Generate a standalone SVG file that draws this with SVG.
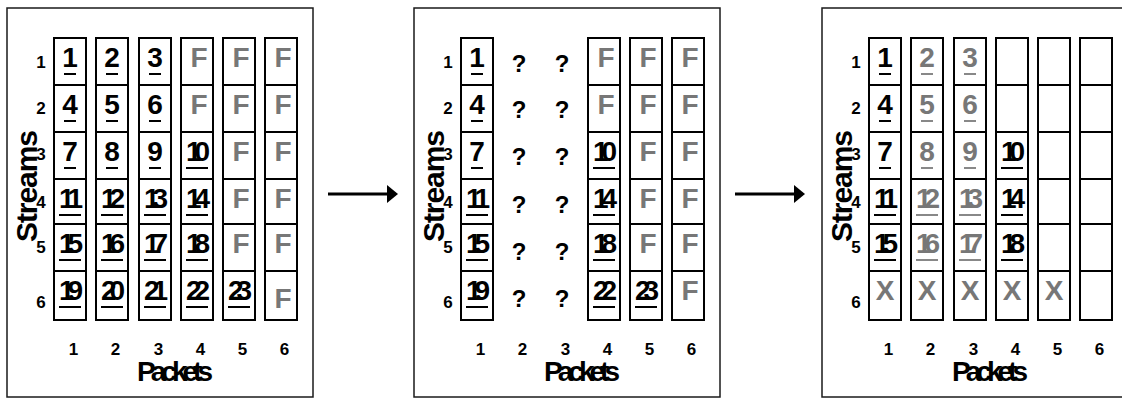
<svg xmlns="http://www.w3.org/2000/svg" width="1122" height="398" viewBox="0 0 1122 398">
<style>
.bg{fill:#fff}
.frame{fill:none;stroke:#1a1a1a;stroke-width:1.5}
.col{fill:#fff;stroke:#000;stroke-width:2}
.div{fill:none;stroke:#000;stroke-width:2}
text{font-family:"Liberation Sans",Arial,sans-serif;font-weight:bold;fill:#000}
.n{font-size:28px;text-anchor:middle}
.g{fill:#777}
.u{fill:none;stroke:#000;stroke-width:2}
.ug{fill:none;stroke:#888;stroke-width:2}
.lbl{font-size:17px;text-anchor:middle}
.axis{font-size:28px;text-anchor:middle}
.st{font-size:30px;text-anchor:middle}
.q{font-size:24px;text-anchor:middle}
.conn{stroke:#000;stroke-width:3;fill:none}
</style>
<defs>
<marker id="ah" markerUnits="userSpaceOnUse" markerWidth="12" markerHeight="20" refX="2" refY="9" orient="auto">
<path d="M0,0 L11,9 L0,18 z" fill="#000"/>
</marker>
<g id="axes">
<rect class="frame" x="7" y="8" width="306" height="389"/>
<text class="st" transform="translate(37,186) rotate(-90)" textLength="112" lengthAdjust="spacing">Streams</text>
<text class="lbl" x="41" y="68">1</text>
<text class="lbl" x="41" y="114">2</text>
<text class="lbl" x="41" y="160">3</text>
<text class="lbl" x="41" y="208">4</text>
<text class="lbl" x="41" y="253">5</text>
<text class="lbl" x="41" y="308">6</text>
<text class="lbl" x="73.5" y="355">1</text>
<text class="lbl" x="115.5" y="355">2</text>
<text class="lbl" x="158.5" y="355">3</text>
<text class="lbl" x="200.5" y="355">4</text>
<text class="lbl" x="242.5" y="355">5</text>
<text class="lbl" x="284.5" y="355">6</text>
<text class="axis" x="175" y="381" textLength="76" lengthAdjust="spacing">Packets</text>
</g>
</defs>
<rect class="bg" x="0" y="0" width="1122" height="398"/>

<g id="panel1">
<use href="#axes"/>
<g id="p1-col1">
<rect class="col" x="54" y="38" width="32" height="282"/>
<path class="div" d="M54 85H86M54 132H86M54 179H86M54 224H86M54 271H86"/>
<text class="n" x="70" y="67">1</text><text class="n" x="70" y="114">4</text><text class="n" x="70" y="161">7</text>
<text class="n" x="71" y="208" textLength="24" lengthAdjust="spacing">11</text><text class="n" x="71" y="253" textLength="24" lengthAdjust="spacing">15</text><text class="n" x="71" y="300" textLength="24" lengthAdjust="spacing">19</text>
<path class="u" d="M64 74H76M64 121H76M64 168H76M59 215H81M59 260H81M59 307H81"/>
</g>
<g id="p1-col2">
<rect class="col" x="96" y="38" width="32" height="282"/>
<path class="div" d="M96 85H128M96 132H128M96 179H128M96 224H128M96 271H128"/>
<text class="n" x="112" y="67">2</text><text class="n" x="112" y="114">5</text><text class="n" x="112" y="161">8</text>
<text class="n" x="113" y="208" textLength="24" lengthAdjust="spacing">12</text><text class="n" x="113" y="253" textLength="24" lengthAdjust="spacing">16</text><text class="n" x="113" y="300" textLength="24" lengthAdjust="spacing">20</text>
<path class="u" d="M106 74H118M106 121H118M106 168H118M101 215H123M101 260H123M101 307H123"/>
</g>
<g id="p1-col3">
<rect class="col" x="139" y="38" width="32" height="282"/>
<path class="div" d="M139 85H171M139 132H171M139 179H171M139 224H171M139 271H171"/>
<text class="n" x="155" y="67">3</text><text class="n" x="155" y="114">6</text><text class="n" x="155" y="161">9</text>
<text class="n" x="156" y="208" textLength="24" lengthAdjust="spacing">13</text><text class="n" x="156" y="253" textLength="24" lengthAdjust="spacing">17</text><text class="n" x="156" y="300" textLength="24" lengthAdjust="spacing">21</text>
<path class="u" d="M149 74H161M149 121H161M149 168H161M144 215H166M144 260H166M144 307H166"/>
</g>
<g id="p1-col4">
<rect class="col" x="181" y="38" width="32" height="282"/>
<path class="div" d="M181 85H213M181 132H213M181 179H213M181 224H213M181 271H213"/>
<text class="n g" x="199" y="67">F</text><text class="n g" x="199" y="114">F</text>
<text class="n" x="198" y="161" textLength="24" lengthAdjust="spacing">10</text><text class="n" x="198" y="208" textLength="24" lengthAdjust="spacing">14</text><text class="n" x="198" y="253" textLength="24" lengthAdjust="spacing">18</text><text class="n" x="198" y="300" textLength="24" lengthAdjust="spacing">22</text>
<path class="u" d="M186 168H208M186 215H208M186 260H208M186 307H208"/>
</g>
<g id="p1-col5">
<rect class="col" x="223" y="38" width="32" height="282"/>
<path class="div" d="M223 85H255M223 132H255M223 179H255M223 224H255M223 271H255"/>
<text class="n g" x="241" y="67">F</text><text class="n g" x="241" y="114">F</text><text class="n g" x="241" y="161">F</text><text class="n g" x="241" y="208">F</text><text class="n g" x="241" y="253">F</text>
<text class="n" x="240" y="300" textLength="24" lengthAdjust="spacing">23</text>
<path class="u" d="M228 307H250"/>
</g>
<g id="p1-col6">
<rect class="col" x="265" y="38" width="32" height="282"/>
<path class="div" d="M265 85H297M265 132H297M265 179H297M265 224H297M265 271H297"/>
<text class="n g" x="283" y="67">F</text><text class="n g" x="283" y="114">F</text><text class="n g" x="283" y="161">F</text><text class="n g" x="283" y="208">F</text><text class="n g" x="283" y="253">F</text><text class="n g" x="283" y="308">F</text>
</g>
</g>

<g id="panel2" transform="translate(407,0)">
<use href="#axes"/>
<g id="p2-col1">
<rect class="col" x="54" y="38" width="32" height="282"/>
<path class="div" d="M54 85H86M54 132H86M54 179H86M54 224H86M54 271H86"/>
<text class="n" x="70" y="67">1</text><text class="n" x="70" y="114">4</text><text class="n" x="70" y="161">7</text>
<text class="n" x="71" y="208" textLength="24" lengthAdjust="spacing">11</text><text class="n" x="71" y="253" textLength="24" lengthAdjust="spacing">15</text><text class="n" x="71" y="300" textLength="24" lengthAdjust="spacing">19</text>
<path class="u" d="M64 74H76M64 121H76M64 168H76M59 215H81M59 260H81M59 307H81"/>
</g>
<g id="p2-col2">
<text class="q" x="112" y="72">?</text><text class="q" x="112" y="118">?</text><text class="q" x="112" y="165">?</text><text class="q" x="112" y="213">?</text><text class="q" x="112" y="260">?</text><text class="q" x="112" y="307">?</text>
</g>
<g id="p2-col3">
<text class="q" x="155" y="72">?</text><text class="q" x="155" y="118">?</text><text class="q" x="155" y="165">?</text><text class="q" x="155" y="213">?</text><text class="q" x="155" y="260">?</text><text class="q" x="155" y="307">?</text>
</g>
<g id="p2-col4">
<rect class="col" x="181" y="38" width="32" height="282"/>
<path class="div" d="M181 85H213M181 132H213M181 179H213M181 224H213M181 271H213"/>
<text class="n g" x="199" y="67">F</text><text class="n g" x="199" y="114">F</text>
<text class="n" x="198" y="161" textLength="24" lengthAdjust="spacing">10</text><text class="n" x="198" y="208" textLength="24" lengthAdjust="spacing">14</text><text class="n" x="198" y="253" textLength="24" lengthAdjust="spacing">18</text><text class="n" x="198" y="300" textLength="24" lengthAdjust="spacing">22</text>
<path class="u" d="M186 168H208M186 215H208M186 260H208M186 307H208"/>
</g>
<g id="p2-col5">
<rect class="col" x="223" y="38" width="32" height="282"/>
<path class="div" d="M223 85H255M223 132H255M223 179H255M223 224H255M223 271H255"/>
<text class="n g" x="241" y="67">F</text><text class="n g" x="241" y="114">F</text><text class="n g" x="241" y="161">F</text><text class="n g" x="241" y="208">F</text><text class="n g" x="241" y="253">F</text>
<text class="n" x="240" y="300" textLength="24" lengthAdjust="spacing">23</text>
<path class="u" d="M228 307H250"/>
</g>
<g id="p2-col6">
<rect class="col" x="265" y="38" width="32" height="282"/>
<path class="div" d="M265 85H297M265 132H297M265 179H297M265 224H297M265 271H297"/>
<text class="n g" x="283" y="67">F</text><text class="n g" x="283" y="114">F</text><text class="n g" x="283" y="161">F</text><text class="n g" x="283" y="208">F</text><text class="n g" x="283" y="253">F</text><text class="n g" x="283" y="300">F</text>
</g>
</g>

<g id="panel3" transform="translate(815,0)">
<use href="#axes"/>
<g id="p3-col1">
<rect class="col" x="54" y="38" width="32" height="282"/>
<path class="div" d="M54 85H86M54 132H86M54 179H86M54 224H86M54 271H86"/>
<text class="n" x="70" y="67">1</text><text class="n" x="70" y="114">4</text><text class="n" x="70" y="161">7</text>
<text class="n" x="71" y="208" textLength="24" lengthAdjust="spacing">11</text><text class="n" x="71" y="253" textLength="24" lengthAdjust="spacing">15</text>
<text class="n g" x="70" y="300">X</text>
<path class="u" d="M64 74H76M64 121H76M64 168H76M59 215H81M59 260H81"/>
</g>
<g id="p3-col2">
<rect class="col" x="96" y="38" width="32" height="282"/>
<path class="div" d="M96 85H128M96 132H128M96 179H128M96 224H128M96 271H128"/>
<text class="n g" x="112" y="67">2</text><text class="n g" x="112" y="114">5</text><text class="n g" x="112" y="161">8</text>
<text class="n g" x="113" y="208" textLength="24" lengthAdjust="spacing">12</text><text class="n g" x="113" y="253" textLength="24" lengthAdjust="spacing">16</text>
<text class="n g" x="112" y="300">X</text>
<path class="ug" d="M106 74H118M106 121H118M106 168H118M101 215H123M101 260H123"/>
</g>
<g id="p3-col3">
<rect class="col" x="139" y="38" width="32" height="282"/>
<path class="div" d="M139 85H171M139 132H171M139 179H171M139 224H171M139 271H171"/>
<text class="n g" x="155" y="67">3</text><text class="n g" x="155" y="114">6</text><text class="n g" x="155" y="161">9</text>
<text class="n g" x="156" y="208" textLength="24" lengthAdjust="spacing">13</text><text class="n g" x="156" y="253" textLength="24" lengthAdjust="spacing">17</text>
<text class="n g" x="155" y="300">X</text>
<path class="ug" d="M149 74H161M149 121H161M149 168H161M144 215H166M144 260H166"/>
</g>
<g id="p3-col4">
<rect class="col" x="181" y="38" width="32" height="282"/>
<path class="div" d="M181 85H213M181 132H213M181 179H213M181 224H213M181 271H213"/>
<text class="n" x="198" y="161" textLength="24" lengthAdjust="spacing">10</text><text class="n" x="198" y="208" textLength="24" lengthAdjust="spacing">14</text><text class="n" x="198" y="253" textLength="24" lengthAdjust="spacing">18</text>
<text class="n g" x="197" y="300">X</text>
<path class="u" d="M186 168H208M186 215H208M186 260H208"/>
</g>
<g id="p3-col5">
<rect class="col" x="223" y="38" width="32" height="282"/>
<path class="div" d="M223 85H255M223 132H255M223 179H255M223 224H255M223 271H255"/>
<text class="n g" x="239" y="300">X</text>
</g>
<g id="p3-col6">
<rect class="col" x="265" y="38" width="32" height="282"/>
<path class="div" d="M265 85H297M265 132H297M265 179H297M265 224H297M265 271H297"/>
</g>
</g>

<g id="connectors">
<line class="conn" x1="328" y1="194" x2="389" y2="194" marker-end="url(#ah)"/>
<line class="conn" x1="735" y1="194" x2="796" y2="194" marker-end="url(#ah)"/>
</g>
</svg>
